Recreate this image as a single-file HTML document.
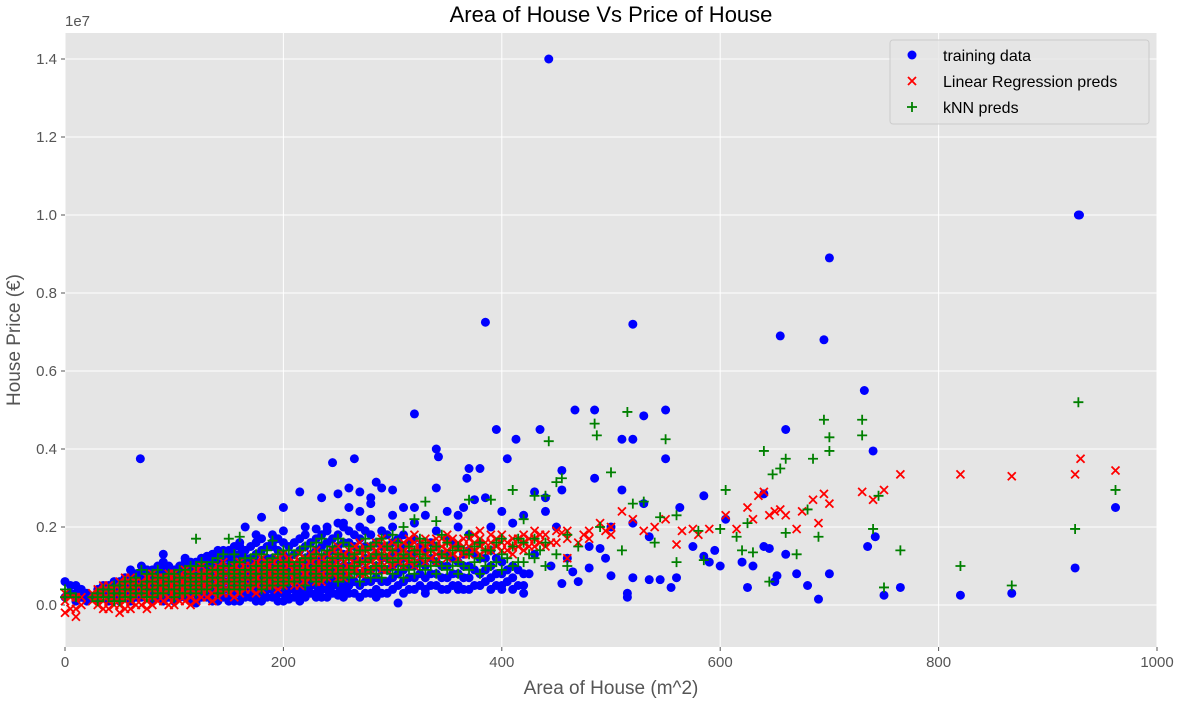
<!DOCTYPE html>
<html>
<head>
<meta charset="utf-8">
<style>
html,body{margin:0;padding:0;background:#fff;}
svg{display:block;font-family:"Liberation Sans","DejaVu Sans",sans-serif;}
</style>
</head>
<body>
<svg id="chart" width="1183" height="702" viewBox="0 0 1183 702">
  <text x="611" y="22" font-size="22" text-anchor="middle" fill="#000">Area of House Vs Price of House</text>
  <text x="65" y="26" font-size="15" fill="#555">1e7</text>
  <rect x="65" y="33" width="1092" height="614" fill="#E5E5E5"/>
  <g id="grid"></g>
  <g id="ticks"></g>
  <g id="marks"></g>
  <text x="611" y="694" font-size="19" text-anchor="middle" fill="#555">Area of House (m^2)</text>
  <text transform="translate(20,340) rotate(-90)" font-size="19" text-anchor="middle" fill="#555">House Price (€)</text>
  <g>
    <rect x="890" y="40" width="259" height="84" rx="3" fill="#E5E5E5" fill-opacity="0.8" stroke="#cccccc"/>
    <g>
      <circle cx="912" cy="55" r="4.5" fill="#0000ff"/>
      <text x="943" y="61" font-size="16" fill="#000">training data</text>
    </g>
    <g>
      <path d="M908,77 L916,85 M916,77 L908,85" stroke="#ff0000" stroke-width="1.8"/>
      <text x="943" y="87" font-size="16" fill="#000">Linear Regression preds</text>
    </g>
    <g>
      <path d="M912,102 L912,112 M907,107 L917,107" stroke="#008000" stroke-width="1.8"/>
      <text x="943" y="113" font-size="16" fill="#000">kNN preds</text>
    </g>
  </g>
</svg>
<script>
// ---- Data (area m^2, price in millions €) ----
var xTicks = [0,200,400,600,800,1000];
var yTicks = [0,2,4,6,8,10,12,14];
var yTickLabels = ["0.0","0.2","0.4","0.6","0.8","1.0","1.2","1.4"];

var blueCols = [
[0,[0.2,0.6]],[10,[0.1,0.3,0.5]],[20,[0.1,0.3]],[30,[0.1,0.2,0.4]],[40,[0.1,0.2,0.3,0.5]],
[50,[0.1,0.2,0.4,0.6]],[60,[0.1,0.3,0.5,0.7,0.9]],[70,[0.2,0.4,0.6,0.8,1.0]],[80,[0.1,0.3,0.5,0.7,0.9]],
[90,[0.1,0.3,0.5,0.7,0.9,1.1]],[100,[0.1,0.3,0.5,0.7,0.9]],[110,[0.2,0.4,0.6,0.8,1.0,1.2]],
[120,[0.1,0.3,0.5,0.7,0.9,1.1]],[130,[0.2,0.4,0.6,0.8,1.0,1.2]],[140,[0.1,0.3,0.5,0.7,0.9,1.1,1.3]],
[150,[0.2,0.4,0.6,0.8,1.0,1.2,1.4]],[160,[0.1,0.3,0.5,0.7,0.9,1.1,1.3,1.6]],[170,[0.2,0.4,0.6,0.8,1.0,1.2,1.5]],
[180,[0.1,0.3,0.5,0.7,0.9,1.1,1.4,1.7]],[190,[0.2,0.4,0.6,0.8,1.0,1.2,1.5,1.8]],
[200,[0.1,0.3,0.5,0.7,0.9,1.1,1.3,1.6,1.9]],[210,[0.2,0.4,0.6,0.8,1.0,1.3,1.6]],
[220,[0.2,0.4,0.6,0.8,1.0,1.2,1.5,1.8]],[230,[0.3,0.5,0.7,0.9,1.1,1.4,1.7]],
[240,[0.2,0.4,0.6,0.8,1.0,1.3,1.6,1.9]],[250,[0.3,0.5,0.7,0.9,1.2,1.5,1.8,2.1]],
[260,[0.3,0.5,0.7,1.0,1.3,1.6,1.9,2.5]],[270,[0.2,0.5,0.8,1.1,1.4,1.7,2.0]],
[280,[0.3,0.6,0.9,1.2,1.5,1.8,2.2]],[290,[0.3,0.6,0.9,1.2,1.5,1.9]],[300,[0.4,0.7,1.0,1.3,1.6,2.0]],
[310,[0.3,0.6,0.9,1.2,1.5,1.8]],[320,[0.4,0.7,1.0,1.3,1.7,2.1]],[330,[0.4,0.7,1.0,1.4]],
[340,[0.5,0.8,1.1,1.5,1.9]],[350,[0.4,0.7,1.0,1.3,1.7]],[360,[0.5,0.8,1.1,1.5,2.0]],
[370,[0.4,0.7,1.0,1.4,1.8]],[380,[0.5,0.8,1.2,1.6]],[390,[0.4,0.7,1.0,1.4]],[400,[0.5,0.8,1.1]],
[410,[0.4,0.7,1.0]],[420,[0.5,0.8]]
];
var blueCols2 = [
[5,[0.3,0.5]],[15,[0.2,0.4]],[25,[0.2]],[35,[0.3,0.5]],[45,[0.2,0.4,0.6]],[55,[0.3,0.5,0.7]],
[65,[0.2,0.4,0.6,0.8]],[75,[0.3,0.5,0.7,0.9]],[85,[0.2,0.4,0.6,0.8,1.0]],[95,[0.2,0.4,0.6,0.8,1.0]],
[105,[0.2,0.4,0.6,0.8,1.0]],[115,[0.1,0.3,0.5,0.7,0.9,1.1]],[125,[0.2,0.4,0.6,0.8,1.0,1.2]],
[135,[0.1,0.3,0.5,0.7,0.9,1.1,1.3]],[145,[0.2,0.4,0.6,0.8,1.0,1.2,1.4]],[155,[0.1,0.3,0.5,0.7,0.9,1.1,1.3,1.5]],
[165,[0.2,0.4,0.6,0.8,1.0,1.2,1.4]],[175,[0.1,0.3,0.5,0.7,0.9,1.1,1.3,1.6]],[185,[0.2,0.4,0.6,0.8,1.0,1.2,1.5]],
[195,[0.1,0.3,0.5,0.7,0.9,1.1,1.4,1.7]],[205,[0.2,0.4,0.6,0.8,1.0,1.2,1.5]],[215,[0.1,0.3,0.5,0.7,0.9,1.1,1.4,1.7]],
[225,[0.3,0.5,0.7,0.9,1.1,1.3,1.6]],[235,[0.2,0.4,0.6,0.8,1.0,1.2,1.5,1.8]],[245,[0.3,0.5,0.7,0.9,1.1,1.4,1.7]],
[255,[0.2,0.4,0.6,0.8,1.0,1.3,1.6,2.0]],[265,[0.3,0.6,0.9,1.2,1.5,1.8]],[275,[0.3,0.6,0.9,1.2,1.5,1.9]],
[285,[0.4,0.7,1.0,1.3,1.6]],[295,[0.3,0.6,0.9,1.2,1.5,1.8]],[305,[0.5,0.8,1.1,1.4,1.7]],[315,[0.4,0.7,1.0,1.3,1.6]],
[325,[0.5,0.8,1.1,1.5]],[335,[0.5,0.8,1.2,1.6]],[345,[0.4,0.7,1.0,1.3]],[355,[0.5,0.8,1.2,1.6]],
[365,[0.4,0.7,1.0,1.3]],[375,[0.5,0.9,1.3]],[385,[0.6,0.9,1.2]],[395,[0.5,0.8,1.2]],[405,[0.6,0.9]],[415,[0.5,0.9]]
];
var bluePts = [
[443,14],[928,10],[929,10],[700,8.9],[655,6.9],[695,6.8],[385,7.25],[520,7.2],[732,5.5],[660,4.5],
[320,4.9],[467,5],[485,5],[530,4.85],[550,5],[510,4.25],[520,4.25],[413,4.25],[395,4.5],[435,4.5],
[340,4],[342,3.8],[405,3.75],[550,3.75],[740,3.95],[69,3.75],[245,3.65],[265,3.75],[370,3.5],[380,3.5],
[368,3.25],[485,3.25],[455,3.45],[285,3.15],[290,3],[300,2.95],[260,3],[340,3],[270,2.9],[215,2.9],
[280,2.75],[235,2.75],[250,2.85],[385,2.75],[375,2.7],[440,2.75],[430,2.9],[455,2.95],[510,2.95],
[585,2.8],[530,2.6],[563,2.5],[640,2.85],[605,2.2],[595,1.4],[585,1.25],[620,1.1],[640,1.5],[645,1.45],
[660,1.3],[735,1.5],[742,1.75],[700,0.8],[670,0.8],[680,0.5],[690,0.15],[750,0.25],[765,0.45],[820,0.25],
[867,0.3],[925,0.95],[962,2.5],[625,0.45],[650,0.6],[652,0.75],[630,1.0],[515,0.3],[515,0.2],[520,0.7],
[555,0.45],[535,0.65],[545,0.65],[500,0.75],[490,1.45],[480,0.95],[470,0.6],[465,0.85],[455,0.55],
[420,0.3],[425,0.8],[460,1.2],[500,2.0],[520,2.1],[535,1.75],[575,1.5],[180,2.25],[200,2.5],[165,2.0],
[175,1.8],[190,1.6],[220,2],[230,1.95],[240,2],[255,2.1],[270,2.4],[280,2.6],[300,2.3],[310,2.5],
[320,2.5],[330,2.3],[350,2.4],[360,2.3],[365,2.5],[400,2.4],[410,2.1],[420,2.3],[440,2.4],[390,2.0],
[305,0.05],[310,0.6],[330,0.3],[360,0.4],[380,0.5],[400,0.4],[285,0.2],[250,0.25],[230,0.2],[205,0.15],
[180,0.2],[150,0.1],[120,0.05],[100,0.1],[90,1.3],[110,1.1],[130,1.25],[140,1.4],[160,1.5],[95,0.9],[75,0.9],
[430,1.3],[445,1.0],[450,2.0],[480,1.5],[495,1.2],[560,0.7],[590,1.1],[600,1.0]
];

var redCols = [
[0,[-0.2,0.1,0.3]],[10,[-0.3,-0.1,0.2]],[30,[0,0.2,0.4]],[40,[-0.1,0.1,0.3,0.5]],[50,[-0.2,0,0.2,0.4,0.6]],
[60,[-0.1,0.1,0.3,0.5,0.7]],[70,[0,0.2,0.4,0.6]],[80,[0,0.2,0.4,0.6,0.8]],[90,[0.1,0.3,0.5,0.7]],
[100,[0,0.2,0.4,0.6,0.8]],[110,[0.1,0.3,0.5,0.7,0.9]],[120,[0.1,0.3,0.5,0.7,0.9]],[130,[0.2,0.4,0.6,0.8]],
[140,[0.2,0.4,0.6,0.8,1.0]],[150,[0.3,0.5,0.7,0.9]],[160,[0.3,0.5,0.7,0.9,1.1]],[170,[0.4,0.6,0.8,1.0]],
[180,[0.4,0.6,0.8,1.0,1.2]],[190,[0.5,0.7,0.9,1.1]],[200,[0.5,0.7,0.9,1.1,1.3]],[210,[0.5,0.7,0.9,1.1]],
[220,[0.6,0.8,1.0,1.2]],[230,[0.6,0.8,1.0,1.2,1.4]],[240,[0.7,0.9,1.1,1.3]],[250,[0.7,0.9,1.1,1.3,1.5]],
[260,[0.8,1.0,1.2,1.4]],[270,[0.8,1.0,1.2,1.4,1.6]],[280,[0.9,1.1,1.3,1.5]],[290,[0.9,1.1,1.3,1.5,1.7]],
[300,[1.0,1.2,1.4,1.6]],[310,[1.0,1.2,1.4,1.6]],[320,[1.0,1.2,1.4,1.6,1.8]],[330,[1.1,1.3,1.5,1.7]],
[340,[1.1,1.3,1.5,1.7]],[350,[1.2,1.4,1.6,1.8]],[360,[1.2,1.4,1.6]],[370,[1.3,1.5,1.7]],
[380,[1.3,1.5,1.7,1.9]],[390,[1.4,1.6,1.8]],[400,[1.4,1.6,1.8]],[410,[1.3,1.5,1.7]],[420,[1.4,1.6,1.8]],
[430,[1.5,1.7,1.9]],[440,[1.5,1.8]],[450,[1.6,1.9]],[460,[1.7,1.9]],[480,[1.7,1.9]],[500,[1.8,2.0]]
];
var redCols2 = [
[5,[-0.1,0.2]],[15,[0,0.2]],[25,[0.1,0.3]],[35,[-0.1,0.1,0.3,0.5]],[45,[0,0.2,0.4]],[55,[-0.1,0.1,0.3,0.5,0.7]],
[65,[0,0.2,0.4,0.6]],[75,[-0.1,0.1,0.3,0.5,0.7]],[85,[0.1,0.3,0.5,0.7]],[95,[0,0.2,0.4,0.6,0.8]],
[105,[0.1,0.3,0.5,0.7]],[115,[0,0.2,0.4,0.6,0.8]],[125,[0.2,0.4,0.6,0.8,1.0]],[135,[0.1,0.3,0.5,0.7,0.9]],
[145,[0.3,0.5,0.7,0.9,1.1]],[155,[0.2,0.4,0.6,0.8,1.0]],[165,[0.4,0.6,0.8,1.0]],[175,[0.3,0.5,0.7,0.9,1.1]],
[185,[0.5,0.7,0.9,1.1]],[195,[0.4,0.6,0.8,1.0,1.2]],[205,[0.6,0.8,1.0,1.2]],[215,[0.5,0.7,0.9,1.1,1.3]],
[225,[0.7,0.9,1.1,1.3]],[235,[0.6,0.8,1.0,1.2]],[245,[0.8,1.0,1.2,1.4]],[255,[0.7,0.9,1.1,1.3]],
[265,[0.9,1.1,1.3,1.5]],[275,[0.8,1.0,1.2,1.4]],[285,[1.0,1.2,1.4,1.6]],[295,[0.9,1.1,1.3,1.5]],
[305,[1.1,1.3,1.5]],[315,[1.1,1.3,1.5,1.7]],[325,[1.2,1.4,1.6]],[335,[1.2,1.4,1.6]],[345,[1.3,1.5,1.7]],
[355,[1.3,1.5,1.7]],[365,[1.3,1.5,1.7]],[375,[1.4,1.6,1.8]],[385,[1.4,1.6]],[395,[1.5,1.7]],[405,[1.4,1.6]],
[415,[1.5,1.7]],[425,[1.5,1.7]],[435,[1.6,1.8]],[445,[1.6]],[475,[1.8]],[495,[1.9]]
];
var redPts = [
[510,2.4],[520,2.2],[530,1.9],[540,2.0],[550,2.2],[560,1.55],[565,1.9],[575,1.95],[580,1.8],[590,1.95],
[605,2.3],[615,1.95],[625,2.5],[630,2.2],[635,2.8],[640,2.9],[645,2.3],[650,2.4],[655,2.45],[660,2.3],
[670,1.95],[675,2.4],[685,2.7],[690,2.1],[695,2.85],[700,2.6],[730,2.9],[740,2.7],[750,2.95],[765,3.35],
[820,3.35],[867,3.3],[925,3.35],[930,3.75],[962,3.45],[490,2.1],[470,1.6],[460,1.2],[455,1.85]
];

var greenCols = [
[0,[0.2,0.4]],[10,[0.2]],[30,[0.1,0.3]],[40,[0.2,0.4]],[50,[0.1,0.3,0.5]],[60,[0.2,0.4,0.6]],
[70,[0.3,0.5,0.9]],[80,[0.2,0.4,0.6,0.8]],[90,[0.3,0.5,0.7]],[100,[0.2,0.4,0.6,0.8]],
[110,[0.3,0.5,0.7,0.9]],[120,[0.3,0.5,0.7,1.0,1.7]],[130,[0.4,0.6,0.8,1.0]],[140,[0.3,0.5,0.7,0.9,1.2]],
[150,[0.4,0.6,0.8,1.0,1.7]],[160,[0.4,0.6,0.8,1.1,1.75]],[170,[0.5,0.7,0.9,1.2]],[180,[0.4,0.6,0.8,1.0,1.3]],
[190,[0.5,0.7,0.9,1.2,1.65]],[200,[0.5,0.7,0.9,1.1,1.4]],[210,[0.6,0.8,1.0,1.3]],[220,[0.5,0.7,0.9,1.2,1.5]],
[230,[0.6,0.8,1.0,1.3,1.6]],[240,[0.7,0.9,1.1,1.4]],[250,[0.6,0.8,1.0,1.3,1.7]],[260,[0.7,0.9,1.2,1.5]],
[270,[0.6,0.8,1.1,1.4]],[280,[0.7,0.9,1.2,1.5]],[290,[0.7,1.0,1.3,1.7]],[300,[0.8,1.1,1.4,1.8]],
[310,[0.7,1.0,1.3,2.0]],[320,[0.8,1.1,1.4,2.2]],[330,[0.9,1.2,1.6,2.65]],[340,[0.8,1.1,1.5,2.15]],
[350,[0.9,1.2,1.6]],[360,[0.8,1.1,1.5]],[370,[0.9,1.3,1.8,2.7]],[380,[0.8,1.2,1.6]],[390,[1.0,1.4,2.7]],
[400,[0.9,1.3,1.7]],[410,[1.0,1.5,2.95]],[420,[1.1,1.6,2.2]],[430,[1.2,1.7,2.8]],[440,[1.0,1.6,2.8]],
[450,[1.3,3.15]],[460,[1.0,1.8]]
];
var greenCols2 = [
[5,[0.3]],[25,[0.2]],[35,[0.2,0.4]],[45,[0.1,0.3,0.5]],[55,[0.2,0.4,0.6]],[65,[0.3,0.5,0.7]],
[75,[0.2,0.4,0.6,0.8]],[85,[0.3,0.5,0.7,0.9]],[95,[0.4,0.6,0.8]],[105,[0.3,0.5,0.7,0.9]],
[115,[0.4,0.6,0.8,1.0]],[125,[0.4,0.6,0.8,1.1]],[135,[0.5,0.7,0.9,1.1]],[145,[0.4,0.6,0.8,1.0,1.3]],
[155,[0.5,0.7,0.9,1.1,1.3]],[165,[0.5,0.7,0.9,1.2]],[175,[0.6,0.8,1.0,1.3]],[185,[0.5,0.7,0.9,1.1,1.4]],
[195,[0.6,0.8,1.0,1.3]],[205,[0.6,0.8,1.1,1.4]],[215,[0.7,0.9,1.1,1.4]],[225,[0.7,0.9,1.2,1.5]],
[235,[0.7,1.0,1.3,1.7]],[245,[0.8,1.0,1.2,1.5]],[255,[0.7,0.9,1.2,1.6]],[265,[0.8,1.0,1.3]],
[275,[0.8,1.1,1.4,1.7]],[285,[0.8,1.0,1.3,1.6]],[295,[0.9,1.2,1.5]],[305,[0.9,1.2,1.6]],[315,[0.9,1.2,1.5]],
[325,[1.0,1.3,1.7]],[335,[1.0,1.4]],[345,[1.0,1.3,1.8]],[355,[1.0,1.4]],[365,[1.0,1.4]],[375,[1.1,1.5]],
[385,[1.0,1.4]],[395,[1.1,1.6]],[405,[1.2]],[415,[1.1,1.7]],[425,[1.3]],[435,[1.4]]
];
var greenPts = [
[928,5.2],[695,4.75],[730,4.75],[700,4.3],[730,4.35],[485,4.65],[487,4.35],[515,4.95],[550,4.25],[443,4.2],
[500,3.4],[640,3.95],[655,3.5],[660,3.75],[685,3.75],[700,3.95],[648,3.35],[962,2.95],[925,1.95],[740,1.95],
[745,2.8],[765,1.4],[750,0.45],[820,1.0],[867,0.5],[670,1.3],[690,1.75],[605,2.95],[560,1.1],[585,1.15],
[620,1.4],[630,1.35],[645,0.6],[455,3.25],[470,1.5],[520,2.6],[530,2.65],[545,2.25],[560,2.3],[600,1.95],
[490,2.0],[510,1.4],[540,1.6],[580,1.9],[615,1.75],[625,2.1],[660,1.85],[680,2.45]
];

// ---- Axes ----
var X0 = 65, X1 = 1157, YT = 33, YB = 647;
function xs(v){ return X0 + v * (X1 - X0) / 1000; }
function ys(v){ return 605 - v * 39; }

var NS = "http://www.w3.org/2000/svg";
function mk(tag, attrs, parent){
  var e = document.createElementNS(NS, tag);
  for (var k in attrs) e.setAttribute(k, attrs[k]);
  parent.appendChild(e);
  return e;
}
var grid = document.getElementById('grid');
var ticks = document.getElementById('ticks');
var marks = document.getElementById('marks');

xTicks.forEach(function(t){
  var x = xs(t);
  var g = mk('line', {x1:x, x2:x, y1:YT, y2:YB, stroke:'#fff', 'stroke-width':1}, grid);
  
  
  var tk = mk('line', {x1:x, x2:x, y1:YB, y2:YB+4, stroke:'#555'}, ticks);
  
  
  var lb = mk('text', {x:x, y:YB+20, 'font-size':15, 'text-anchor':'middle', fill:'#555'}, ticks);
  lb.textContent = String(t);
  
  
});
yTicks.forEach(function(t, i){
  var y = ys(t);
  var g = mk('line', {x1:X0, x2:X1, y1:y, y2:y, stroke:'#fff', 'stroke-width':1}, grid);
  
  
  var tk = mk('line', {x1:X0-4, x2:X0, y1:y, y2:y, stroke:'#555'}, ticks);
  
  
  var lb = mk('text', {x:X0-8, y:y+5, 'font-size':15, 'text-anchor':'end', fill:'#555'}, ticks);
  lb.textContent = yTickLabels[i];
  
  
});

function expand(cols, pts){
  var out = [];
  cols.forEach(function(c){ c[1].forEach(function(v){ out.push([c[0], v]); }); });
  return out.concat(pts);
}

var gb = mk('g', {}, marks);


expand(blueCols.concat(blueCols2), bluePts).forEach(function(p){
  var c = mk('circle', {cx:xs(p[0]), cy:ys(p[1]), r:4.5, fill:'#0000ff'}, gb);
  
  
});

var gr = mk('g', {}, marks);


expand(redCols.concat(redCols2), redPts).forEach(function(p){
  var x = xs(p[0]), y = ys(p[1]), s = 4;
  var e = mk('path', {d:'M'+(x-s)+','+(y-s)+'L'+(x+s)+','+(y+s)+'M'+(x+s)+','+(y-s)+'L'+(x-s)+','+(y+s), stroke:'#ff0000', 'stroke-width':1.8, fill:'none'}, gr);
  
  
});

var gg = mk('g', {}, marks);


expand(greenCols.concat(greenCols2), greenPts).forEach(function(p){
  var x = xs(p[0]), y = ys(p[1]), s = 5;
  var e = mk('path', {d:'M'+x+','+(y-s)+'L'+x+','+(y+s)+'M'+(x-s)+','+y+'L'+(x+s)+','+y, stroke:'#008000', 'stroke-width':1.8, fill:'none'}, gg);
  
  
});
</script>
</body>
</html>
